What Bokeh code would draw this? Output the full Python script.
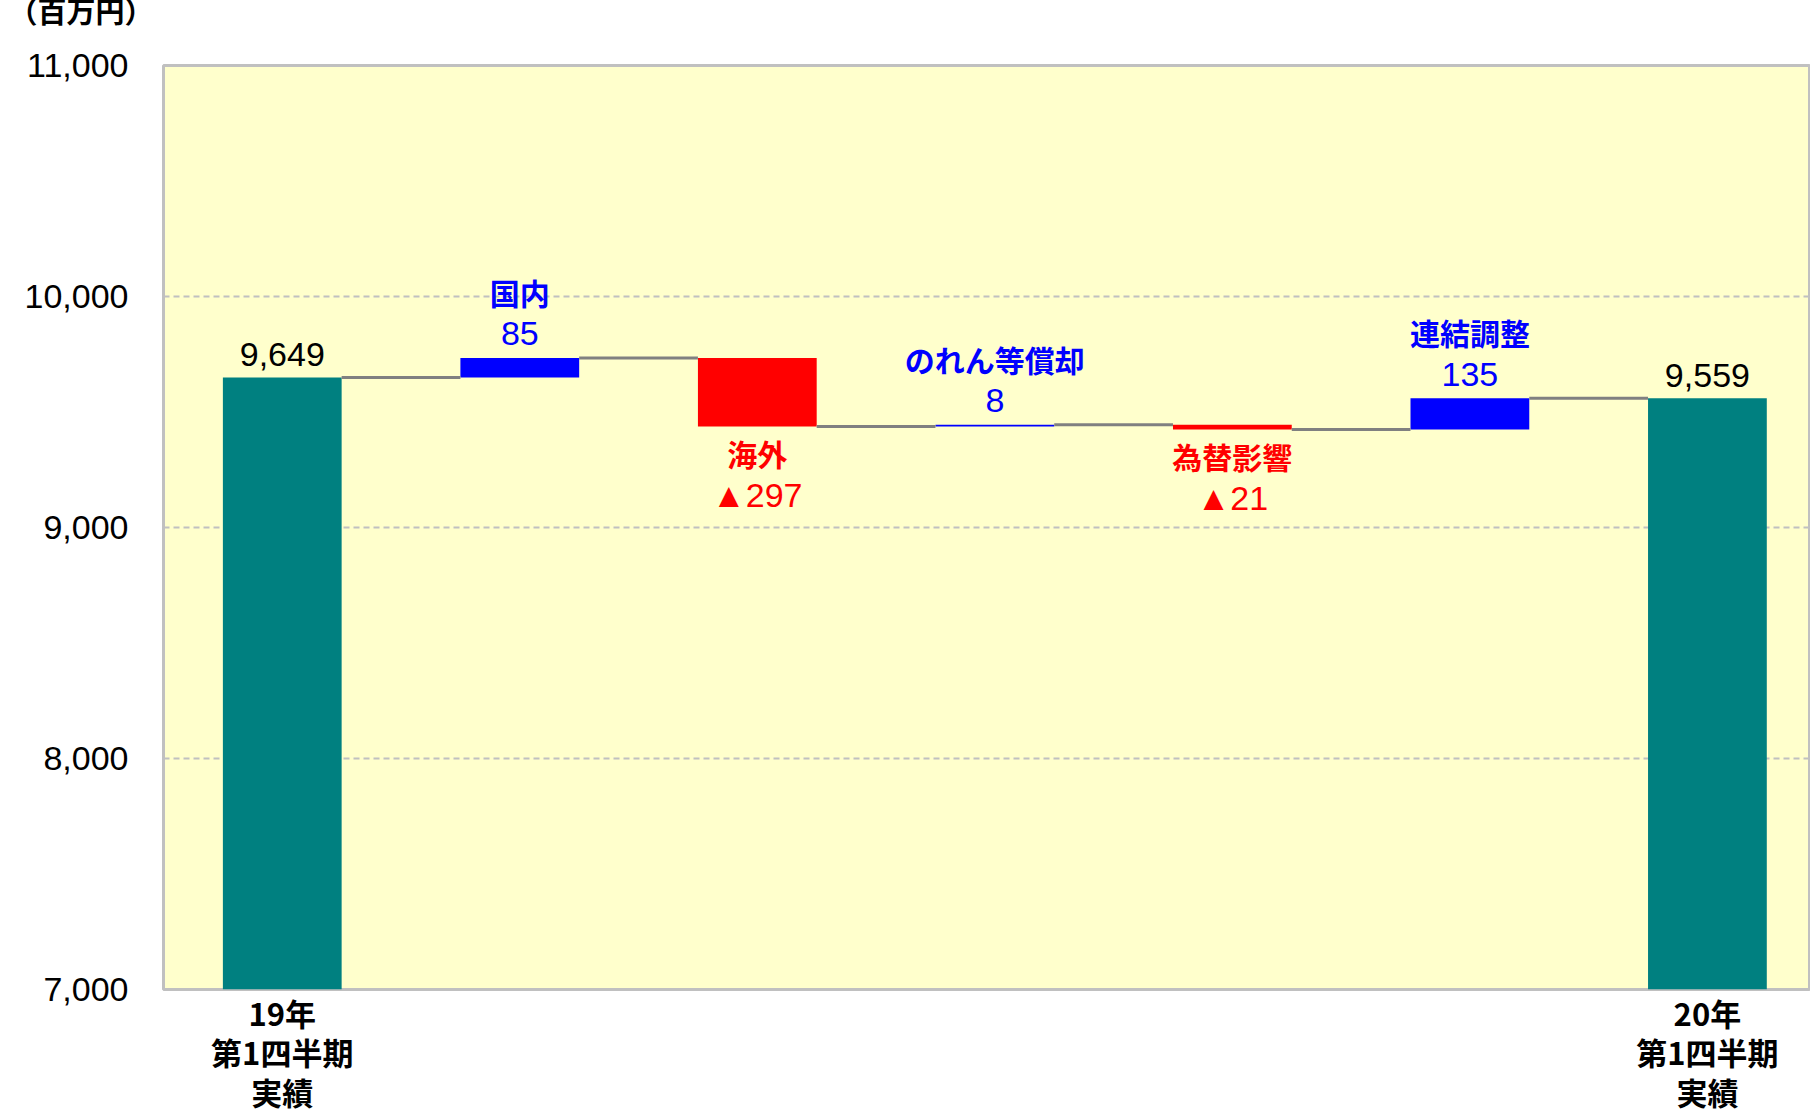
from bokeh.plotting import figure
from bokeh.layouts import column
from bokeh.models import FixedTicker, NumeralTickFormatter, Range1d
from bokeh.core.properties import value
from bokeh.embed import file_html
from bokeh.resources import INLINE

# ---- data -------------------------------------------------------------
start_label = "19年\n第1四半期\n実績"
end_label = "20年\n第1四半期\n実績"
start_total = 9649
end_total = 9559
change_names = ["国内", "海外", "のれん等償却", "為替影響", "連結調整"]
change_values = [85, -297, 8, -21, 135]
y_ticks = [7000, 8000, 9000, 10000, 11000]
grid_ticks = [8000, 9000, 10000]
unit_label = "（百万円）"

# ---- styling ----------------------------------------------------------
BG = "#FFFFCC"
TEAL = "#008080"
UP = "#0000FF"
DOWN = "#FF0000"
CONNECT = "#808080"
BORDER = "#C0C0C0"
NUM_FONT = "Liberation Sans, 'Noto Sans CJK JP', sans-serif"
JP_FONT = "'Noto Sans CJK JP', sans-serif"
NUM_SIZE = "34px"
NAME_SIZE = "30px"

W, H = 1810, 1116
CAP_H = 44
Y_MIN, Y_MAX = y_ticks[0], y_ticks[-1]
BAR_W = 0.5

# ---- waterfall geometry ------------------------------------------------
n = len(change_values) + 2
total_x = [0, n - 1]
change_x = list(range(1, n - 1))

bottoms, tops, colors = [], [], []
levels = [start_total]
level = start_total
for v in change_values:
    new = level + v
    bottoms.append(min(level, new))
    tops.append(max(level, new))
    colors.append(UP if v >= 0 else DOWN)
    level = new
    levels.append(level)

# ---- unit caption strip (shown as the strip's single axis label) ----------
cap_tick = CAP_H - 37
cap = figure(width=W, height=CAP_H, output_backend="svg", toolbar_location=None,
             x_range=Range1d(0, 1), y_range=Range1d(0, CAP_H),
             min_border=0, min_border_left=163, x_axis_type=None)
cap.outline_line_color = None
cap.background_fill_color = "white"
cap.border_fill_color = "white"
cap.grid.visible = False
cap.yaxis.ticker = FixedTicker(ticks=[cap_tick])
cap.yaxis.major_label_overrides = {cap_tick: unit_label}
cap.yaxis.major_tick_line_color = None
cap.yaxis.minor_tick_line_color = None
cap.yaxis.axis_line_color = None
cap.yaxis.major_label_standoff = 4
cap.yaxis.major_label_text_font = JP_FONT
cap.yaxis.major_label_text_font_style = "bold"
cap.yaxis.major_label_text_font_size = "29px"
cap.yaxis.major_label_text_color = "black"

# ---- main chart ------------------------------------------------------------
p = figure(width=W, height=H - CAP_H, output_backend="svg", toolbar_location=None,
           x_range=Range1d(-0.5, 6.434), y_range=Range1d(Y_MIN, Y_MAX),
           min_border_left=163, min_border_right=0, min_border_top=65 - CAP_H,
           min_border_bottom=126)
p.background_fill_color = BG
p.border_fill_color = "white"
p.outline_line_color = BORDER
p.outline_line_width = 3

# total bars
p.vbar(x=total_x, bottom=Y_MIN, top=[start_total, end_total], width=BAR_W,
       fill_color=TEAL, line_color=None)
# change bars
p.vbar(x=change_x, bottom=bottoms, top=tops, width=BAR_W,
       fill_color=colors, line_color=None)

# connectors between consecutive bars
p.segment(x0=[i + BAR_W / 2 for i in range(n - 1)],
          x1=[i + 1 - BAR_W / 2 for i in range(n - 1)],
          y0=levels, y1=levels, line_color=CONNECT, line_width=3)

# totals value labels
p.text(x=total_x, y=[start_total, end_total],
       text=[f"{start_total:,}", f"{end_total:,}"],
       y_offset=-23, text_align="center", text_baseline="middle",
       text_font=value(NUM_FONT), text_font_size=NUM_SIZE, text_color="black")

# change labels
for x, v, name, b, t, c in zip(change_x, change_values, change_names, bottoms, tops, colors):
    txt = f"{v:,}" if v >= 0 else f"▲{-v:,}"
    if v >= 0:
        p.text(x=[x], y=[t], text=[txt], y_offset=-24, text_align="center",
               text_baseline="middle", text_font=value(NUM_FONT),
               text_font_size=NUM_SIZE, text_color=c)
        p.text(x=[x], y=[t], text=[name], y_offset=-66, text_align="center",
               text_baseline="middle", text_font=value(JP_FONT),
               text_font_style="bold", text_font_size=NAME_SIZE, text_color=c)
    else:
        p.text(x=[x], y=[b], text=[name], y_offset=26, text_align="center",
               text_baseline="middle", text_font=value(JP_FONT),
               text_font_style="bold", text_font_size=NAME_SIZE, text_color=c)
        p.text(x=[x], y=[b], text=[txt], y_offset=68, text_align="center",
               text_baseline="middle", text_font=value(NUM_FONT),
               text_font_size=NUM_SIZE, text_color=c)

# axes
p.yaxis.ticker = FixedTicker(ticks=y_ticks)
p.yaxis.formatter = NumeralTickFormatter(format="0,0")
p.yaxis.major_tick_line_color = None
p.yaxis.minor_tick_line_color = None
p.yaxis.axis_line_color = None
p.yaxis.major_label_standoff = 29
p.yaxis.major_label_text_font = NUM_FONT
p.yaxis.major_label_text_font_size = NUM_SIZE
p.yaxis.major_label_text_color = "black"

p.xaxis.ticker = FixedTicker(ticks=total_x)
p.xaxis.major_label_overrides = {total_x[0]: start_label, total_x[1]: end_label}
p.xaxis.major_tick_line_color = None
p.xaxis.minor_tick_line_color = None
p.xaxis.axis_line_color = None
p.xaxis.major_label_standoff = -6
p.xaxis.major_label_text_font = JP_FONT
p.xaxis.major_label_text_font_style = "bold"
p.xaxis.major_label_text_font_size = "31px"
p.xaxis.major_label_text_line_height = 0.88
p.xaxis.major_label_text_color = "black"

p.xgrid.visible = False
p.ygrid.ticker = FixedTicker(ticks=grid_ticks)
p.ygrid.grid_line_color = BORDER
p.ygrid.grid_line_dash = "6 4"
p.ygrid.grid_line_width = 2

layout = column(cap, p, spacing=0)
open("out.html", "w").write(file_html(layout, INLINE))
